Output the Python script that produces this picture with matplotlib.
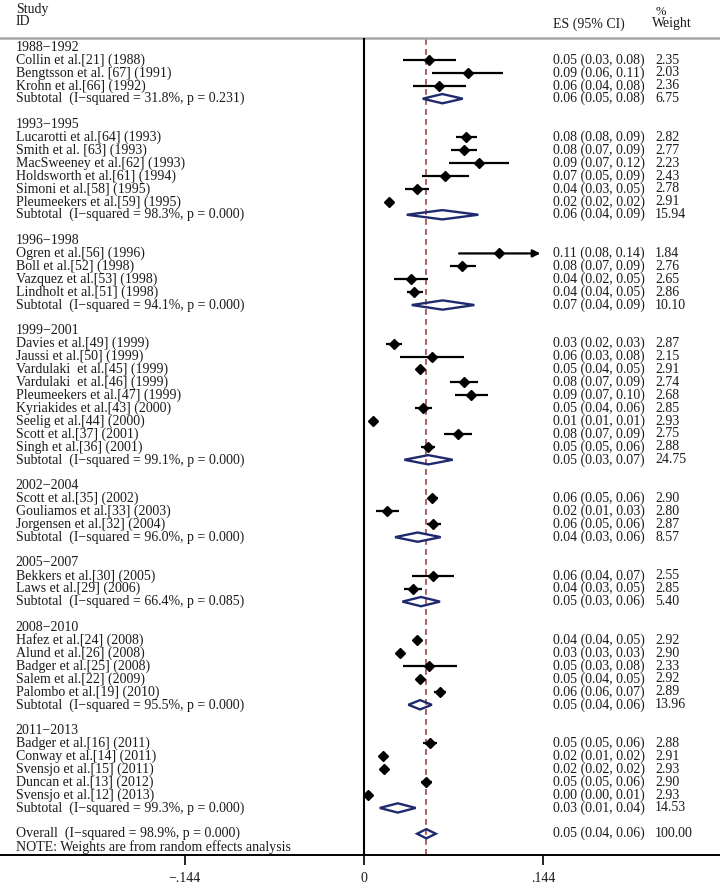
import matplotlib

matplotlib.use("Agg")

import matplotlib.pyplot as plt
from matplotlib.patches import Polygon
from matplotlib.transforms import blended_transform_factory

MINUS = "\u2212"

# periods and how many studies fall in each one
period_labels = ["1988" + MINUS + "1992", "1993" + MINUS + "1995", "1996" + MINUS + "1998",
                 "1999" + MINUS + "2001", "2002" + MINUS + "2004", "2005" + MINUS + "2007",
                 "2008" + MINUS + "2010", "2011" + MINUS + "2013"]
group_sizes = [3, 6, 4, 9, 3, 2, 5, 5]

study_names = [
    "Collin et al.[21] (1988)", "Bengtsson et al. [67] (1991)", "Krohn et al.[66] (1992)",
    "Lucarotti et al.[64] (1993)", "Smith et al. [63] (1993)", "MacSweeney et al.[62] (1993)",
    "Holdsworth et al.[61] (1994)", "Simoni et al.[58] (1995)", "Pleumeekers et al.[59] (1995)",
    "Ogren et al.[56] (1996)", "Boll et al.[52] (1998)", "Vazquez et al.[53] (1998)",
    "Lindholt et al.[51] (1998)",
    "Davies et al.[49] (1999)", "Jaussi et al.[50] (1999)", "Vardulaki  et al.[45] (1999)",
    "Vardulaki  et al.[46] (1999)", "Pleumeekers et al.[47] (1999)", "Kyriakides et al.[43] (2000)",
    "Seelig et al.[44] (2000)", "Scott et al.[37] (2001)", "Singh et al.[36] (2001)",
    "Scott et al.[35] (2002)", "Gouliamos et al.[33] (2003)", "Jorgensen et al.[32] (2004)",
    "Bekkers et al.[30] (2005)", "Laws et al.[29] (2006)",
    "Hafez et al.[24] (2008)", "Alund et al.[26] (2008)", "Badger et al.[25] (2008)",
    "Salem et al.[22] (2009)", "Palombo et al.[19] (2010)",
    "Badger et al.[16] (2011)", "Conway et al.[14] (2011)", "Svensjo et al.[15] (2011)",
    "Duncan et al.[13] (2012)", "Svensjo et al.[12] (2013)",
]

# effect sizes and confidence limits
study_es = [0.0522, 0.0833, 0.0605,
            0.0822, 0.0801, 0.0921, 0.0653, 0.0428, 0.0197,
            0.1084, 0.0790, 0.0378, 0.0404,
            0.0241, 0.0544, 0.0447, 0.0803, 0.0859, 0.0476, 0.0072, 0.0753, 0.0514,
            0.0549, 0.0187, 0.0557,
            0.0554, 0.0396,
            0.0426, 0.0289, 0.0525, 0.0450, 0.0610,
            0.0530, 0.0150, 0.0163, 0.0496, 0.0030]
study_lo = [0.0316, 0.0549, 0.0396,
            0.0739, 0.0699, 0.0683, 0.0463, 0.0329, 0.0185,
            0.0763, 0.0688, 0.0239, 0.0343,
            0.0177, 0.0292, 0.0423, 0.0691, 0.0733, 0.0410, 0.0062, 0.0645, 0.0458,
            0.0512, 0.0094, 0.0504,
            0.0388, 0.0324,
            0.0410, 0.0275, 0.0311, 0.0435, 0.0562,
            0.0471, 0.0140, 0.0150, 0.0455, 0.0020]
study_hi = [0.0739, 0.1119, 0.0817,
            0.0908, 0.0908, 0.1165, 0.0846, 0.0525, 0.0210,
            0.1450, 0.0900, 0.0516, 0.0471,
            0.0303, 0.0803, 0.0476, 0.0918, 0.0994, 0.0549, 0.0082, 0.0865, 0.0570,
            0.0592, 0.0284, 0.0618,
            0.0723, 0.0468,
            0.0445, 0.0305, 0.0745, 0.0468, 0.0656,
            0.0584, 0.0160, 0.0178, 0.0549, 0.0042]

study_ci_text = [
    "0.05 (0.03, 0.08)", "0.09 (0.06, 0.11)", "0.06 (0.04, 0.08)",
    "0.08 (0.08, 0.09)", "0.08 (0.07, 0.09)", "0.09 (0.07, 0.12)", "0.07 (0.05, 0.09)",
    "0.04 (0.03, 0.05)", "0.02 (0.02, 0.02)",
    "0.11 (0.08, 0.14)", "0.08 (0.07, 0.09)", "0.04 (0.02, 0.05)", "0.04 (0.04, 0.05)",
    "0.03 (0.02, 0.03)", "0.06 (0.03, 0.08)", "0.05 (0.04, 0.05)", "0.08 (0.07, 0.09)",
    "0.09 (0.07, 0.10)", "0.05 (0.04, 0.06)", "0.01 (0.01, 0.01)", "0.08 (0.07, 0.09)",
    "0.05 (0.05, 0.06)",
    "0.06 (0.05, 0.06)", "0.02 (0.01, 0.03)", "0.06 (0.05, 0.06)",
    "0.06 (0.04, 0.07)", "0.04 (0.03, 0.05)",
    "0.04 (0.04, 0.05)", "0.03 (0.03, 0.03)", "0.05 (0.03, 0.08)", "0.05 (0.04, 0.05)",
    "0.06 (0.06, 0.07)",
    "0.05 (0.05, 0.06)", "0.02 (0.01, 0.02)", "0.02 (0.02, 0.02)", "0.05 (0.05, 0.06)",
    "0.00 (0.00, 0.01)",
]
study_weights = ["2.35", "2.03", "2.36",
                 "2.82", "2.77", "2.23", "2.43", "2.78", "2.91",
                 "1.84", "2.76", "2.65", "2.86",
                 "2.87", "2.15", "2.91", "2.74", "2.68", "2.85", "2.93", "2.75", "2.88",
                 "2.90", "2.80", "2.87",
                 "2.55", "2.85",
                 "2.92", "2.90", "2.33", "2.92", "2.89",
                 "2.88", "2.91", "2.93", "2.90", "2.93"]

# pooled estimate for each period
subtotal_i2 = ["31.8%, p = 0.231", "98.3%, p = 0.000", "94.1%, p = 0.000", "99.1%, p = 0.000",
               "96.0%, p = 0.000", "66.4%, p = 0.085", "95.5%, p = 0.000", "99.3%, p = 0.000"]
subtotal_es = [0.0629, 0.0629, 0.0632, 0.0516, 0.0431, 0.0458, 0.0450, 0.0271]
subtotal_lo = [0.0471, 0.0343, 0.0383, 0.0324, 0.0249, 0.0308, 0.0356, 0.0126]
subtotal_hi = [0.0793, 0.0918, 0.0886, 0.0712, 0.0616, 0.0610, 0.0544, 0.0415]
subtotal_ci_text = ["0.06 (0.05, 0.08)", "0.06 (0.04, 0.09)", "0.07 (0.04, 0.09)",
                    "0.05 (0.03, 0.07)", "0.04 (0.03, 0.06)", "0.05 (0.03, 0.06)",
                    "0.05 (0.04, 0.06)", "0.03 (0.01, 0.04)"]
subtotal_weights = ["6.75", "15.94", "10.10", "24.75", "8.57", "5.40", "13.96", "14.53"]

overall_i2 = "98.9%, p = 0.000"
overall_es = 0.0500
overall_lo = 0.0426
overall_hi = 0.0576
overall_ci_text = "0.05 (0.04, 0.06)"
overall_weight = "100.00"

tick_values = [-0.144, 0.0, 0.144]
tick_labels = [MINUS + ".144", "0", ".144"]

TEXT_COLOR = "#1a1a1a"
NAVY = "#1f2a6e"
FONT = "Liberation Serif"
FS = 10


def draw_diamond(ax, lo, mid, hi, row, half_h=0.36):
    pts = [(lo, row), (mid, row - half_h), (hi, row), (mid, row + half_h)]
    ax.add_patch(Polygon(pts, closed=True, fill=False, edgecolor=NAVY, lw=1.7, zorder=4))


def main() -> None:
    fig = plt.figure(figsize=(7.2, 8.91), dpi=100)
    ax = fig.add_axes([0, 0, 1, 1])
    ax.axis("off")
    ax.set_xlim(-0.2924, 0.2859)
    ax.set_ylim(65.44, -3.653)
    trans = blended_transform_factory(ax.transAxes, ax.transData)

    x_name = 0.022
    x_ci = 0.768
    x_wt = 0.910
    clip_max = 0.1416
    axis_row = 62.65

    def put(x, y, s, size=FS):
        ax.text(x, y, s, transform=trans, fontsize=size, family=FONT, color=TEXT_COLOR,
                va="center", ha="left")

    # header
    put(x_name, -2.88, "Study")
    put(x_name, -1.95, "ID")
    put(x_ci, -1.80, "ES (95% CI)")
    put(x_wt, -2.75, "%", size=FS - 1)
    put(x_wt - 0.005, -1.80, "Weight")
    ax.axhline(-0.74, color="#a8a8a8", lw=1.8)

    row = 0
    start = 0
    for g, size in enumerate(group_sizes):
        put(x_name, row, period_labels[g])
        row += 1
        for i in range(start, start + size):
            put(x_name, row, study_names[i])
            put(x_ci, row, study_ci_text[i])
            put(x_wt, row, study_weights[i])
            hi = min(study_hi[i], clip_max)
            if study_hi[i] > clip_max:
                ax.annotate("", xy=(hi, row), xytext=(study_lo[i], row),
                            arrowprops=dict(arrowstyle="-|>", lw=1.6, color="black",
                                            mutation_scale=11, shrinkA=0, shrinkB=0))
            else:
                ax.hlines(row, study_lo[i], hi, color="black", lw=1.6, zorder=3)
            ax.plot(study_es[i], row, "D", color="black", ms=5.5, zorder=5)
            row += 1
        start += size
        put(x_name, row, "Subtotal  (I" + MINUS + "squared = " + subtotal_i2[g] + ")")
        put(x_ci, row, subtotal_ci_text[g])
        put(x_wt, row, subtotal_weights[g])
        draw_diamond(ax, subtotal_lo[g], subtotal_es[g], subtotal_hi[g], row)
        row += 2

    put(x_name, row, "Overall  (I" + MINUS + "squared = " + overall_i2 + ")")
    put(x_ci, row, overall_ci_text)
    put(x_wt, row, overall_weight)
    draw_diamond(ax, overall_lo, overall_es, overall_hi, row)
    row += 1
    put(x_name, row, "NOTE: Weights are from random effects analysis")

    # reference lines
    ax.vlines(0, -0.74, axis_row, color="black", lw=1.5, zorder=2)
    ax.vlines(overall_es, -0.6, axis_row, color="#a04844", lw=1.2,
              linestyles=(0, (3.5, 2.5)), zorder=1)

    # x axis
    ax.axhline(axis_row, color="black", lw=1.4)
    for v, lab in zip(tick_values, tick_labels):
        ax.vlines(v, axis_row, axis_row + 0.8, color="black", lw=1.2)
        ax.text(v, 64.5, lab, fontsize=FS, family=FONT, color=TEXT_COLOR,
                ha="center", va="center")

    fig.savefig("out.png", dpi=100, facecolor="white")
    plt.close(fig)


if __name__ == "__main__":
    main()
